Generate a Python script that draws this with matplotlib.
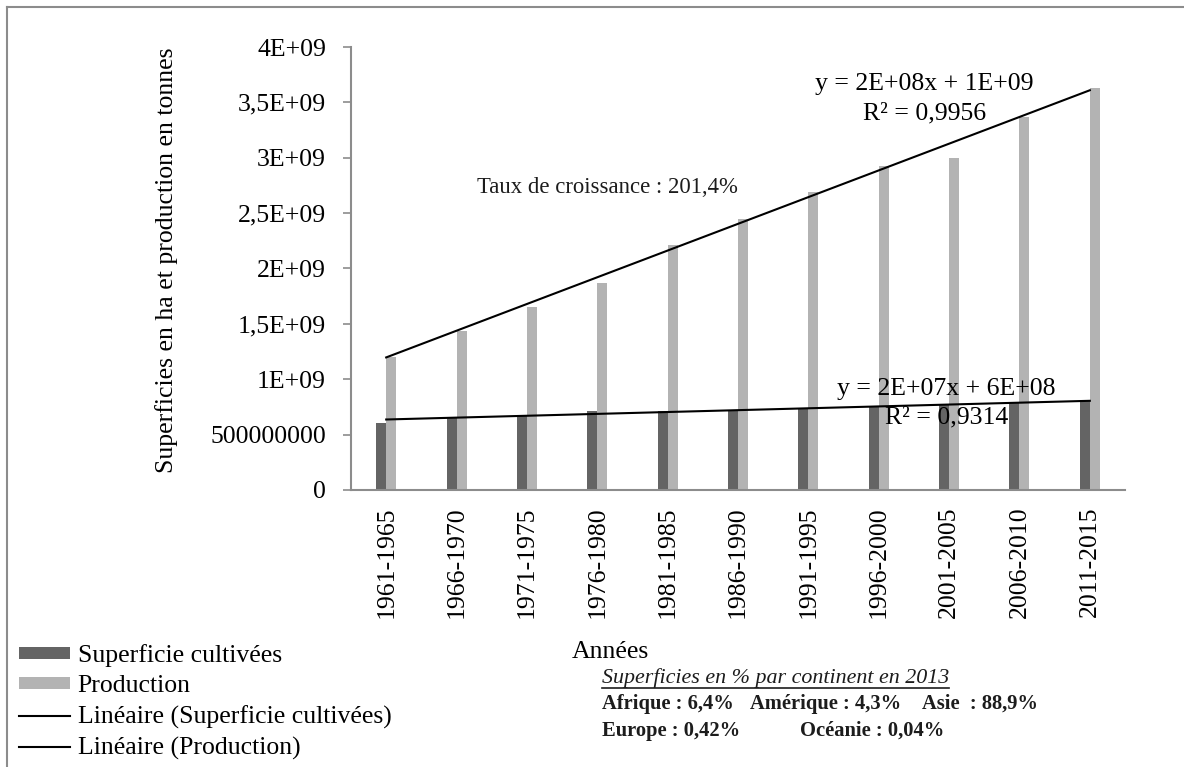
import numpy as np
import matplotlib
matplotlib.use("Agg")
import matplotlib.pyplot as plt
from matplotlib.patches import Patch
from matplotlib.lines import Line2D

plt.rcParams['font.family'] = ['Liberation Serif', 'DejaVu Serif']

# --- data -------------------------------------------------------------
periods = ["1961-1965", "1966-1970", "1971-1975", "1976-1980", "1981-1985",
           "1986-1990", "1991-1995", "1996-2000", "2001-2005", "2006-2010",
           "2011-2015"]
superficie = [0.605e9, 0.660e9, 0.680e9, 0.713e9, 0.713e9, 0.720e9,
              0.730e9, 0.750e9, 0.770e9, 0.790e9, 0.800e9]
production = [1.20e9, 1.436e9, 1.65e9, 1.87e9, 2.21e9, 2.45e9,
              2.69e9, 2.93e9, 3.00e9, 3.37e9, 3.63e9]
ytick_values = [0, 0.5e9, 1e9, 1.5e9, 2e9, 2.5e9, 3e9, 3.5e9, 4e9]
ytick_labels = ["0", "500000000", "1E+09", "1,5E+09", "2E+09", "2,5E+09",
                "3E+09", "3,5E+09", "4E+09"]
legend_labels = ["Superficie cultivées", "Production",
                 "Linéaire (Superficie cultivées)", "Linéaire (Production)"]
eq_production = "y = 2E+08x + 1E+09\nR² = 0,9956"
eq_superficie = "y = 2E+07x + 6E+08\nR² = 0,9314"
growth_note = "Taux de croissance : 201,4%"
continent_title = "Superficies en % par continent en 2013"
continent_row1 = ["Afrique : 6,4%", "Amérique : 4,3%", "Asie  : 88,9%"]
continent_row2 = ["Europe : 0,42%", "Océanie : 0,04%"]

# --- figure -----------------------------------------------------------
W, H = 1184, 767
fig = plt.figure(figsize=(W / 100, H / 100), dpi=100)
fig.patch.set_facecolor("white")


def fx(px):
    return px / W


def fy(py):
    return 1 - py / H


ax = fig.add_axes([fx(351), fy(490), fx(1125) - fx(351), fy(47) - fy(490)])

dark = "#646464"
light = "#b3b3b3"
axis_grey = "#8c8c8c"
fs = 18.5

x = np.arange(len(periods))
bw = 0.142
ax.bar(x - bw / 2, superficie, width=bw, color=dark, zorder=2)
ax.bar(x + bw / 2, production, width=bw, color=light, zorder=2)

# linear trend lines (x = 1..n, as in a spreadsheet trendline)
t = np.arange(1, len(periods) + 1)
for series in (superficie, production):
    a, b = np.polyfit(t, series, 1)
    ax.plot([x[0], x[-1]], [a * t[0] + b, a * t[-1] + b], color="black",
            lw=1.5, zorder=3)

ax.set_xlim(-0.5, len(periods) - 0.5)
ax.set_ylim(0, 4e9)
ax.set_yticks(ytick_values)
ax.set_yticklabels(ytick_labels)
ax.set_xticks(x)
ax.set_xticklabels(periods, rotation=90)

for side in ("top", "right"):
    ax.spines[side].set_visible(False)
for side in ("left", "bottom"):
    ax.spines[side].set_color(axis_grey)
    ax.spines[side].set_linewidth(1.5)

ax.tick_params(axis="y", direction="out", length=6, width=1.2,
               color=axis_grey, labelsize=fs, pad=12)
ax.tick_params(axis="x", length=0, labelsize=fs, pad=12)

ax.set_ylabel("Superficies en ha et production en tonnes", fontsize=fs)
ax.yaxis.set_label_coords(-0.224, 0.519)
ax.set_xlabel("Années", fontsize=fs)
ax.xaxis.set_label_coords(0.335, -0.340)

# trendline equations
ax.text(7.65, 3.53e9, eq_production, ha="center", va="center",
        fontsize=fs, linespacing=1.45, zorder=4)
ax.text(7.96, 0.786e9, eq_superficie, ha="center", va="center",
        fontsize=fs, linespacing=1.38, zorder=4)
ax.text(1.29, 2.727e9, growth_note, ha="left", va="center",
        fontsize=16.4, color="#1c1c1c")

# legend
handles = [Patch(facecolor=dark, edgecolor="none"),
           Patch(facecolor=light, edgecolor="none"),
           Line2D([], [], color="black", lw=1.5),
           Line2D([], [], color="black", lw=1.5)]
fig.legend(handles, legend_labels, loc="upper left",
           bbox_to_anchor=(fx(19), fy(644)), frameon=False, fontsize=fs,
           borderpad=0, borderaxespad=0, handlelength=1.98,
           handleheight=0.36, handletextpad=0.3, labelspacing=0.32)

# continent shares box
title = fig.text(fx(602), fy(678), continent_title, ha="left", va="center",
                 fontsize=15.8, style="italic", color="#1c1c1c")
row1_x = [602, 750, 922]
for px, s in zip(row1_x, continent_row1):
    fig.text(fx(px), fy(704), s, ha="left", va="center", fontsize=14.8,
             weight="bold", color="#1c1c1c")
row2_x = [602, 800]
for px, s in zip(row2_x, continent_row2):
    fig.text(fx(px), fy(731), s, ha="left", va="center", fontsize=14.8,
             weight="bold", color="#1c1c1c")

# underline under the italic title
fig.canvas.draw()
bb = title.get_window_extent()
fig.add_artist(Line2D([bb.x0 / W, bb.x1 / W], [fy(688), fy(688)],
                      transform=fig.transFigure, color="#1c1c1c", lw=1.2))

# outer frame (left and top edges)
fig.add_artist(Line2D([fx(7), fx(7)], [0, fy(7)], transform=fig.transFigure,
                      color=axis_grey, lw=1.5))
fig.add_artist(Line2D([fx(7), 1], [fy(7), fy(7)], transform=fig.transFigure,
                      color=axis_grey, lw=1.5))

fig.savefig("out.png", dpi=100)
